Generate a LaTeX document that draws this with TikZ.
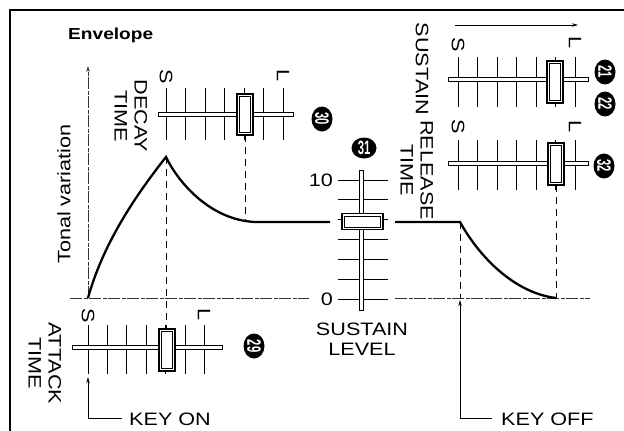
\documentclass[tikz,border=0pt]{standalone}
\usepackage{fontspec}
\setmainfont[FakeStretch=1.2]{Liberation Sans}
\usetikzlibrary{arrows.meta,shapes.geometric}
\tikzset{
  lbl/.style={font=\fontsize{18}{20}\selectfont, inner sep=0pt, align=center},
  titletext/.style={inner sep=0pt},
  axisline/.style={line width=0.6pt, black!80, dash pattern=on 12pt off 1.5pt on 4pt off 1.5pt},
  env/.style={line width=2.3pt, line join=miter},
  guide/.style={line width=0.8pt, dash pattern=on 7pt off 5pt},
  tickline/.style={line width=0.8pt},
  rail/.style={line width=0.8pt, fill=white},
  knobo/.style={line width=1.4pt, fill=white},
  knobi/.style={line width=0.6pt},
  cnum/.style={ellipse, fill=black, text=white, inner sep=0pt, minimum width=25pt, minimum height=21pt},
  keyline/.style={line width=0.8pt},
  tip/.style={-{Stealth[length=6pt,width=3.5pt]}},
  frameline/.style={line width=1.2pt}
}
\newcommand\cn[1]{\resizebox{12.5pt}{13.5pt}{\bfseries #1}}
\begin{document}
\begin{tikzpicture}[x=1pt,y=-1pt]
\useasboundingbox (0,0) rectangle (624,431);
% frame
\coordinate (FBL) at (10,431);
\coordinate (FTL) at (10,10);
\coordinate (FTR) at (624,10);
\draw[frameline] (FBL) -- (FTL) -- (FTR);

% title
\node[titletext, anchor=base west] (title) at (68,39) {\resizebox{85pt}{!}{\bfseries Envelope}};

% axes
\coordinate (O) at (88,298);
\coordinate (Ytop) at (88,66);
\coordinate (Xl) at (70,298);
\coordinate (Xm) at (309,298);
\coordinate (Xn) at (395,298);
\coordinate (Xr) at (590,298);
\draw[axisline, tip] (O) -- (Ytop);
\draw[axisline] (Xl) -- (Xm);
\draw[axisline] (Xn) -- (Xr);
\node[lbl, rotate=90] (tonal) at (64,194) {Tonal variation};

% envelope curve
\coordinate (peak) at (166,157);
\coordinate (sus1) at (255,222);
\coordinate (sus2) at (330,222);
\coordinate (sus3) at (395,222);
\coordinate (koff) at (460,222);
\coordinate (rend) at (556,298);
\draw[env] (O) .. controls (104,240) and (140,190) .. (peak)
  .. controls (178,182) and (210,220) .. (sus1) -- (sus2);
\draw[env] (sus3) -- (koff) .. controls (480,258) and (515,293) .. (rend);

% ---------- attack slider ----------
\foreach \i in {0,...,6}{
  \draw[tickline] ({88+19.4*\i},325) -- ({88+19.4*\i},374);
}
\draw[rail] (72,345) rectangle (222,349);
\draw[knobo] (159,329) rectangle (175,371);
\draw[knobi] (161.5,331.5) rectangle (172.5,368.5);
\coordinate (atktop) at (166,329);
\node[lbl, rotate=-90] (aS) at (88,316) {S};
\node[lbl, rotate=-90] (aL) at (204,315) {L};
\node[lbl, rotate=-90] (atk) at (45,363) {ATTACK\\TIME};
\node[cnum, rotate=-90] (c29) at (254,346) {\cn{29}};
\draw[guide] (peak) -- (atktop);

% ---------- decay slider ----------
\foreach \i in {0,...,6}{
  \draw[tickline] ({166+19.5*\i},88) -- ({166+19.5*\i},140);
}
\draw[rail] (158,112.5) rectangle (293,116.5);
\draw[knobo] (237,94) rectangle (253,135);
\draw[knobi] (239.5,96.5) rectangle (250.5,132.5);
\coordinate (dcybot) at (245,135);
\coordinate (dcysus) at (245,222);
\node[lbl, rotate=-90] (dS) at (166,77) {S};
\node[lbl, rotate=-90] (dL) at (283,76) {L};
\node[lbl, rotate=-90] (dcy) at (131,116) {DECAY\\TIME};
\node[cnum, rotate=-90] (c30) at (322,119) {\cn{30}};
\draw[guide] (dcybot) -- (dcysus);

% ---------- sustain level slider ----------
\foreach \i in {0,...,6}{
  \draw[tickline] (338,{180+19.83*\i}) -- (388,{180+19.83*\i});
}
\draw[rail] (359,170) rectangle (363.5,310);
\draw[knobo] (342,213.5) rectangle (383,229.5);
\draw[knobi] (344.5,216) rectangle (380.5,227);
\node[lbl, anchor=east] (ten) at (333,180) {10};
\node[lbl, anchor=east] (zero) at (333,299) {0};
\node[cnum] (c31) at (364,148) {\cn{31}};
\node[lbl] (suslev) at (362,339) {SUSTAIN\\LEVEL};

% ---------- sustain slider (top right) ----------
\coordinate (arrL) at (455,25);
\coordinate (arrR) at (578,25);
\draw[keyline, tip] (arrL) -- (arrR);
\foreach \i in {0,...,6}{
  \draw[tickline] ({458+19.5*\i},57) -- ({458+19.5*\i},107);
}
\draw[rail] (448,77) rectangle (588,81);
\draw[knobo] (547,61) rectangle (563,103);
\draw[knobi] (549.5,63.5) rectangle (560.5,100.5);
\node[lbl, rotate=-90] (sS) at (458,45) {S};
\node[lbl, rotate=-90] (sL) at (575,43) {L};
\node[lbl, rotate=-90] (sus) at (422,69) {SUSTAIN};
\node[cnum, rotate=-90] (c21) at (605,72) {\cn{21}};
\node[cnum, rotate=-90] (c22) at (605,104) {\cn{22}};

% ---------- release slider ----------
\foreach \i in {0,...,6}{
  \draw[tickline] ({458+19.5*\i},140) -- ({458+19.5*\i},190);
}
\draw[rail] (448,161) rectangle (588,165);
\draw[knobo] (548,143) rectangle (564,185);
\draw[knobi] (550.5,145.5) rectangle (561.5,182.5);
\coordinate (relbot) at (556,185);
\node[lbl, rotate=-90] (rS) at (458,127) {S};
\node[lbl, rotate=-90] (rL) at (575,127) {L};
\node[lbl, rotate=-90] (rel) at (417,170) {RELEASE\\TIME};
\node[cnum, rotate=-90] (c32) at (604,166) {\cn{32}};
\draw[guide] (relbot) -- (rend);

% ---------- key on / key off ----------
\coordinate (konTip) at (88,377);
\coordinate (konCorner) at (88,418);
\coordinate (konEnd) at (122,418);
\draw[keyline, tip] (konCorner) -- (konTip);
\draw[keyline] (konCorner) -- (konEnd);
\node[lbl, anchor=west] (keyon) at (129,419) {KEY ON};

\coordinate (koffAx) at (460,298);
\coordinate (koffTip) at (460,300);
\coordinate (koffCorner) at (460,418);
\coordinate (koffEnd) at (492,418);
\draw[guide] (koff) -- (koffAx);
\draw[keyline, tip] (koffCorner) -- (koffTip);
\draw[keyline] (koffCorner) -- (koffEnd);
\node[lbl, anchor=west] (keyoff) at (501,419) {KEY OFF};
\end{tikzpicture}
\end{document}
